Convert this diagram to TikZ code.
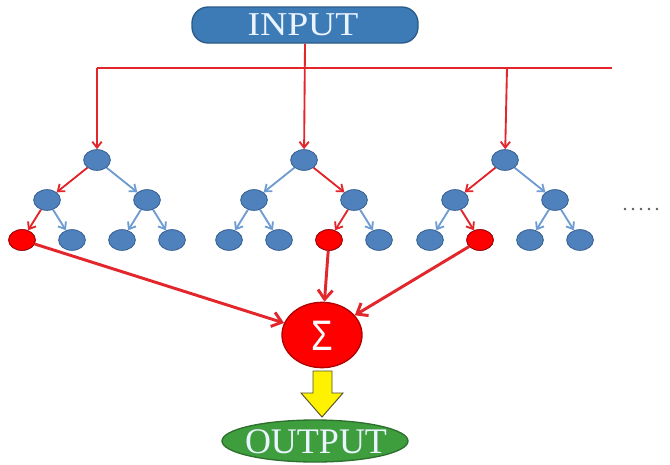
\documentclass[tikz,border=0pt]{standalone}
\usepackage{fontspec}
\usepackage{graphicx}
\setmainfont{Liberation Serif}
\newfontfamily\sigmafont{Liberation Sans}
\usetikzlibrary{arrows.meta,shapes.geometric}

\definecolor{nodeblue}{HTML}{4F81BD}
\definecolor{nodeline}{HTML}{3A6496}
\definecolor{edgeblue}{HTML}{6F9DD3}
\definecolor{linered}{HTML}{E3262B}
\definecolor{hotred}{HTML}{FF0000}
\definecolor{hotline}{HTML}{B00000}
\definecolor{inblue}{HTML}{3D7BB6}
\definecolor{inline}{HTML}{2A5A87}
\definecolor{outgreen}{HTML}{3E9E3E}
\definecolor{outline}{HTML}{2D6F2D}
\definecolor{paletext}{HTML}{EAF4FF}

\tikzset{
  tn/.style={ellipse, draw=nodeline, line width=0.7pt, fill=nodeblue,
             minimum width=20pt, minimum height=15.5pt, inner sep=0pt},
  hotleaf/.style={tn, fill=hotred, draw=hotline},
  redE/.style={draw=linered, line width=1.4pt, -{Straight Barb[length=4.5pt,width=7pt]}},
  bluE/.style={draw=edgeblue, line width=1.4pt, -{Straight Barb[length=4.5pt,width=7pt]}},
  feed/.style={draw=linered, line width=1.3pt},
  sumarrow/.style={draw=linered, line width=2.2pt, -{Straight Barb[length=7pt,width=11pt]}},
}

\begin{document}
\begin{tikzpicture}[x=0.75pt, y=-0.75pt]
\useasboundingbox (0,0) rectangle (670,464);

% input box
\node[draw=inline, line width=1pt, fill=inblue, rounded corners=12pt,
      minimum width=169.5pt, minimum height=27pt, inner sep=0pt] (in) at (305,25) {};
\node[text=paletext, font=\fontsize{25pt}{25pt}\selectfont, inner sep=0pt] (intext) at (303,25)
  {\scalebox{1.13}[1]{INPUT}};

% three trees of the ensemble
\foreach \t/\r in {1/97, 2/304, 3/505} {
  \node[tn] (t\t r)  at (\r,160) {};
  \node[tn] (t\t a)  at (\r-50,200) {};
  \node[tn] (t\t b)  at (\r+50,200) {};
  \node[tn] (t\t aa) at (\r-75,240) {};
  \node[tn] (t\t ab) at (\r-25,240) {};
  \node[tn] (t\t ba) at (\r+25,240) {};
  \node[tn] (t\t bb) at (\r+75,240) {};
}
% selected leaves
\node[hotleaf] at (t1aa) {};
\node[hotleaf] at (t2ba) {};
\node[hotleaf] at (t3ab) {};

% tree edges, decision path in red
\foreach \t/\ca/\cb/\caa/\cab/\cba/\cbb in
   {1/redE/bluE/redE/bluE/bluE/bluE,
    2/bluE/redE/bluE/bluE/redE/bluE,
    3/redE/bluE/bluE/redE/bluE/bluE} {
  \draw[\ca]  (t\t r) -- (t\t a);
  \draw[\cb]  (t\t r) -- (t\t b);
  \draw[\caa] (t\t a) -- (t\t aa);
  \draw[\cab] (t\t a) -- (t\t ab);
  \draw[\cba] (t\t b) -- (t\t ba);
  \draw[\cbb] (t\t b) -- (t\t bb);
}

% feed lines from the input
\coordinate (busL) at (97,68);
\coordinate (bus3) at (507,68);
\coordinate (busR) at (612,68);
\draw[feed] (busL) -- (busR);
\draw[redE] (in.south) -- (t2r);
\draw[redE] (busL) -- (t1r);
\draw[redE] (bus3) -- (t3r);

% more trees
\foreach \x in {625,633,641,649,657}
  \fill[black!65] (\x,209) circle (1.3);

% summation node
\node[ellipse, draw=hotline, line width=1pt, fill=hotred,
      minimum width=60pt, minimum height=49pt, inner sep=0pt] (sum) at (322,335) {};
\node[text=white, font=\sigmafont\fontsize{32pt}{32pt}\selectfont, inner sep=0pt] (sumtext) at (322,336)
  {\scalebox{0.82}[1]{Σ}};

\draw[sumarrow] (t1aa) -- (sum);
\draw[sumarrow] (t2ba) -- (sum);
\draw[sumarrow] (t3ab) -- (sum);

% output
\node[ellipse, draw=outline, line width=1pt, fill=outgreen,
      minimum width=139.5pt, minimum height=31.5pt, inner sep=0pt] (out) at (315,441) {};
\node[text=paletext, font=\fontsize{27pt}{27pt}\selectfont, inner sep=0pt] (outtext) at (316,442) {OUTPUT};

% block arrow from sum to output
\draw[draw=black!55!olive, line width=0.7pt, fill=yellow]
  (313,371) -- (332,371) -- (332,393) -- (343,393) -- (322,417)
  -- (301,393) -- (313,393) -- cycle;
\end{tikzpicture}
\end{document}
